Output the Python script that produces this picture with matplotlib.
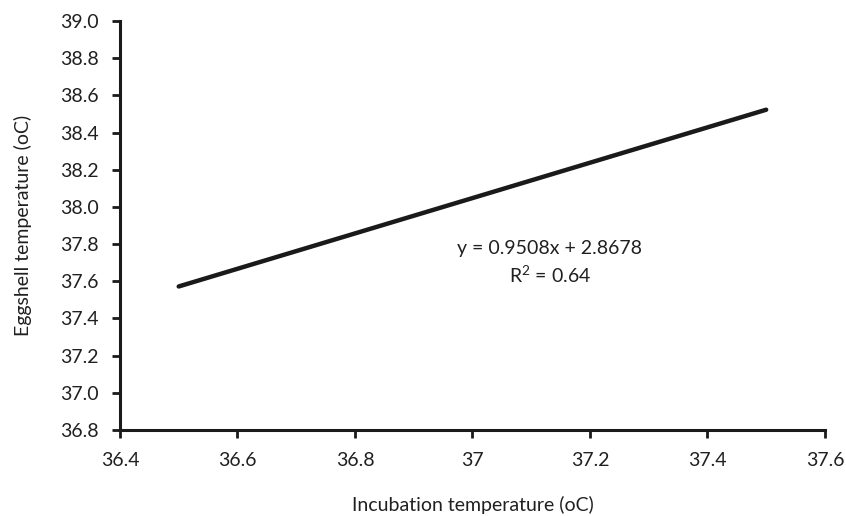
import matplotlib
matplotlib.use("Agg")
import matplotlib.pyplot as plt
import numpy as np

plt.rcParams['font.family'] = ['Lato', 'DejaVu Sans']
plt.rcParams['mathtext.fontset'] = 'custom'
plt.rcParams['mathtext.rm'] = 'Lato'
plt.rcParams['mathtext.it'] = 'Lato:italic'
plt.rcParams['mathtext.bf'] = 'Lato:bold'

x_line = [36.5, 37.5]
slope = 0.9508
intercept = 2.8678
y_line = [slope * v + intercept for v in x_line]
x_ticks = [36.4, 36.6, 36.8, 37.0, 37.2, 37.4, 37.6]
x_tick_labels = ["36.4", "36.6", "36.8", "37", "37.2", "37.4", "37.6"]
y_ticks = [36.8, 37.0, 37.2, 37.4, 37.6, 37.8, 38.0, 38.2, 38.4, 38.6, 38.8, 39.0]

txt = '#202020'
fig = plt.figure(figsize=(8.46, 5.16), dpi=100)
ax = fig.add_axes([0.1418, 0.1667, 0.8333, 0.7926])
ax.plot(x_line, y_line, color='#1a1a1a', lw=3.2, solid_capstyle='round')
ax.set_xlim(36.4, 37.6)
ax.set_ylim(36.8, 39.0)
ax.set_xticks(x_ticks)
ax.set_xticklabels(x_tick_labels)
ax.set_yticks(y_ticks)
ax.set_yticklabels([f"{v:.1f}" for v in y_ticks])
for s in ['top', 'right']:
    ax.spines[s].set_visible(False)
for s in ['left', 'bottom']:
    ax.spines[s].set_linewidth(2.2)
    ax.spines[s].set_color('#1a1a1a')
ax.tick_params(direction='out', length=5.5, width=2, color='#1a1a1a', labelsize=14, labelcolor=txt)
ax.tick_params(axis='x', pad=10)
ax.tick_params(axis='y', pad=10)
ax.set_xlabel("Incubation temperature (oC)", fontsize=14, color=txt, labelpad=20)
ax.set_ylabel("Eggshell temperature (oC)", fontsize=14, color=txt, labelpad=20)
ax.text(37.132, 37.82, "y = 0.9508x + 2.8678", ha='center', va='top',
        fontsize=14, color=txt)
ax.text(37.132, 37.69, r"R$^{2}$ = 0.64", ha='center', va='top',
        fontsize=14, color=txt)
fig.savefig("out.png", dpi=100)
